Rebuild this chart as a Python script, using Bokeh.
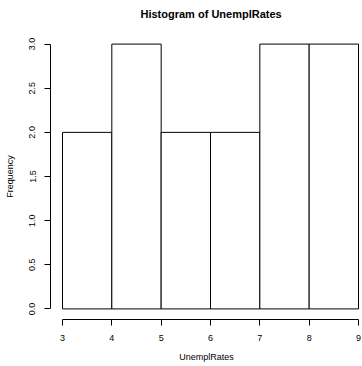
from bokeh.plotting import figure
from bokeh.models import Range1d, FixedTicker, PrintfTickFormatter, Title
from bokeh.embed import file_html
from bokeh.resources import INLINE

# Histogram data (bins of width 1 from 3 to 9)
bin_left = [3, 4, 5, 6, 7, 8]
bin_right = [4, 5, 6, 7, 8, 9]
counts = [2, 3, 2, 2, 3, 3]
x_ticks = [3, 4, 5, 6, 7, 8, 9]
y_ticks = [0, 0.5, 1.0, 1.5, 2.0, 2.5, 3.0]
title_text = "Histogram of UnemplRates"

FONT = "Liberation Sans"

p = figure(width=362, height=366, output_backend="svg", toolbar_location=None,
           x_range=Range1d(2.757, 9.081), y_range=Range1d(-0.12, 3.12),
           min_border_left=50, min_border_right=0, min_border_top=33,
           min_border_bottom=47)

p.quad(left=bin_left, right=bin_right, top=counts, bottom=0,
       fill_color="white", line_color="black", line_width=1)

# blank spacer between the frame and the main title
p.add_layout(Title(text=" ", text_font=FONT, text_font_size="7px",
                   standoff=0), "above")
# main title
p.add_layout(Title(text=title_text, text_font=FONT, text_font_size="11px",
                   text_font_style="bold", text_color="black",
                   align="left", offset=90), "above")

p.grid.visible = False
p.outline_line_color = None
p.background_fill_color = "white"
p.border_fill_color = "white"

for ax in (p.xaxis[0], p.yaxis[0]):
    ax.axis_line_color = "black"
    ax.major_tick_line_color = "black"
    ax.minor_tick_line_color = None
    ax.major_tick_out = 6
    ax.major_tick_in = 0
    ax.major_label_text_font = FONT
    ax.major_label_text_font_size = "9px"
    ax.major_label_text_color = "black"
    ax.axis_label_text_font = FONT
    ax.axis_label_text_font_size = "9px"
    ax.axis_label_text_font_style = "normal"
    ax.axis_label_text_color = "black"

p.xaxis.ticker = FixedTicker(ticks=x_ticks)
p.xaxis.bounds = (3, 9)
p.xaxis.axis_label = "UnemplRates"
p.xaxis.major_label_standoff = 9
p.xaxis.axis_label_standoff = 8

p.yaxis.ticker = FixedTicker(ticks=y_ticks)
p.yaxis.formatter = PrintfTickFormatter(format="%.1f")
p.yaxis.bounds = (0, 3)
p.yaxis.axis_label = "Frequency"
p.yaxis.major_label_orientation = "vertical"
p.yaxis.major_label_standoff = 9
p.yaxis.axis_label_standoff = 12

open("out.html", "w").write(file_html(p, INLINE))
